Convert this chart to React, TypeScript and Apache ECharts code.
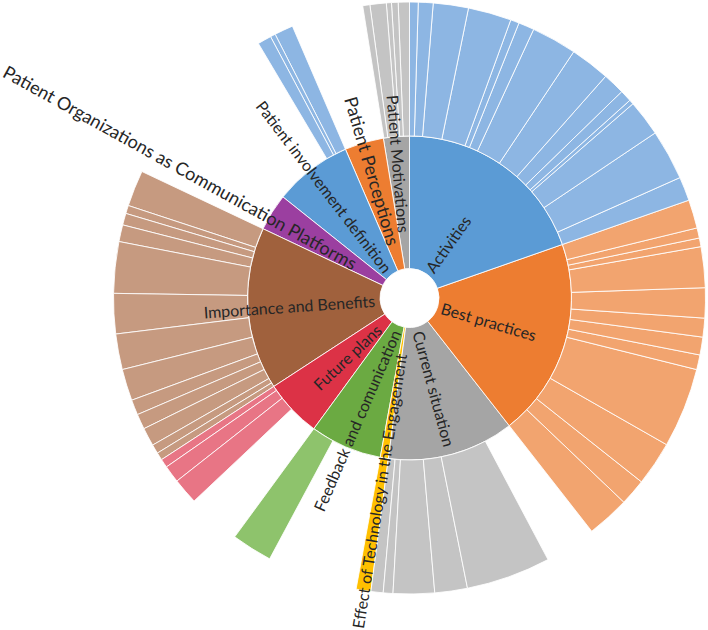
import React, { useEffect, useRef } from "react";
import * as echarts from "echarts";

// Top-level categories, listed counter-clockwise from 12 o'clock
const categories = [
  "Patient Motivations",
  "Patient Perceptions",
  "Patient involvement definition",
  "Patient Organizations as Communication Platforms",
  "Importance and Benefits",
  "Future plans",
  "Feedback and comunication",
  "Effect of Technology in the Engagement",
  "Current situation",
  "Best practices",
  "Activities",
];

// Values of the top-level categories
const categoryValues = [9.3, 14.0, 28.1, 13.3, 58.4, 20.7, 25.8, 2.9, 45.5, 71.3, 70.7];

// Values of sub-codes per category (same order as categories)
const subValues = [
  [2.2, 1.3, 1.0, 3.2, 1.4],
  [],
  [3.7, 1.0, 2.7],
  [],
  [7.1, 1.6, 2.3, 3.3, 10.1, 7.9, 7.0, 6.2, 3.0, 3.0, 3.6, 1.8, 1.5],
  [1.7, 3.4, 5.1],
  [8.0],
  [2.9],
  [2.4, 1.9, 8.1, 6.4, 16.6],
  [8.4, 5.2, 8.7, 15.7, 2.9, 3.5, 3.7, 5.9, 8.0, 1.7, 2.0, 5.6],
  [4.7, 9.9, 7.1, 0.9, 2.3, 4.3, 7.8, 8.9, 3.1, 1.7, 8.5, 6.9, 2.9, 1.7],
];

const innerColors = [
  "#A5A5A5", "#ED7D31", "#5B9BD5", "#9B3FA0", "#A0613D", "#DC3246",
  "#6BAA42", "#FFC000", "#A5A5A5", "#ED7D31", "#5B9BD5",
];
const outerColors = [
  "#C4C4C4", "#F2A46F", "#8DB6E3", "#C08BC4", "#C69A80", "#E87585",
  "#8EC36C", "#FFC000", "#C4C4C4", "#F2A46F", "#8DB6E3",
];
const labelDistance = [36, 26, 5, 34, 5, 13, 6, 27, 5, 4, 4];
const labelSize = [16, 18, 16, 18, 16, 16, 16, 16, 16, 16, 16];
const labelRotate: (string | number)[] = [
  "radial", "radial", "radial", -29, "radial", "radial",
  "radial", "radial", "radial", "radial", "radial",
];

export default function App() {
  const ref = useRef<HTMLDivElement>(null);

  useEffect(() => {
    if (!ref.current) return;
    const chart = echarts.init(ref.current, undefined, { renderer: "svg" });

    const data = categories.map((name, i) => ({
      name,
      value: categoryValues[i],
      itemStyle: { color: innerColors[i] },
      label: {
        show: true,
        rotate: labelRotate[i],
        align: "left",
        distance: labelDistance[i],
        fontSize: labelSize[i],
      },
      children: subValues[i].map((v, j) => ({
        name: `${name} ${j + 1}`,
        value: v,
        itemStyle: { color: outerColors[i] },
        label: { show: false },
      })),
    }));

    chart.setOption({
      animation: false,
      series: [
        {
          type: "sunburst",
          center: [409.5, 298],
          startAngle: 90,
          clockwise: false,
          sort: null,
          nodeClick: false,
          emphasis: { disabled: true },
          data,
          itemStyle: { borderColor: "rgba(255,255,255,0.85)", borderWidth: 1 },
          label: {
            color: "#262626",
            fontFamily: "Lato",
          },
          levels: [
            {},
            { r0: 29.5, r: 162 },
            { r0: 162, r: 296, label: { show: false } },
          ],
        },
      ],
    });

    return () => chart.dispose();
  }, []);

  return (
    <div
      ref={ref}
      style={{ position: "absolute", left: 0, top: 0, width: 708, height: 630, background: "#fff" }}
    />
  );
}
